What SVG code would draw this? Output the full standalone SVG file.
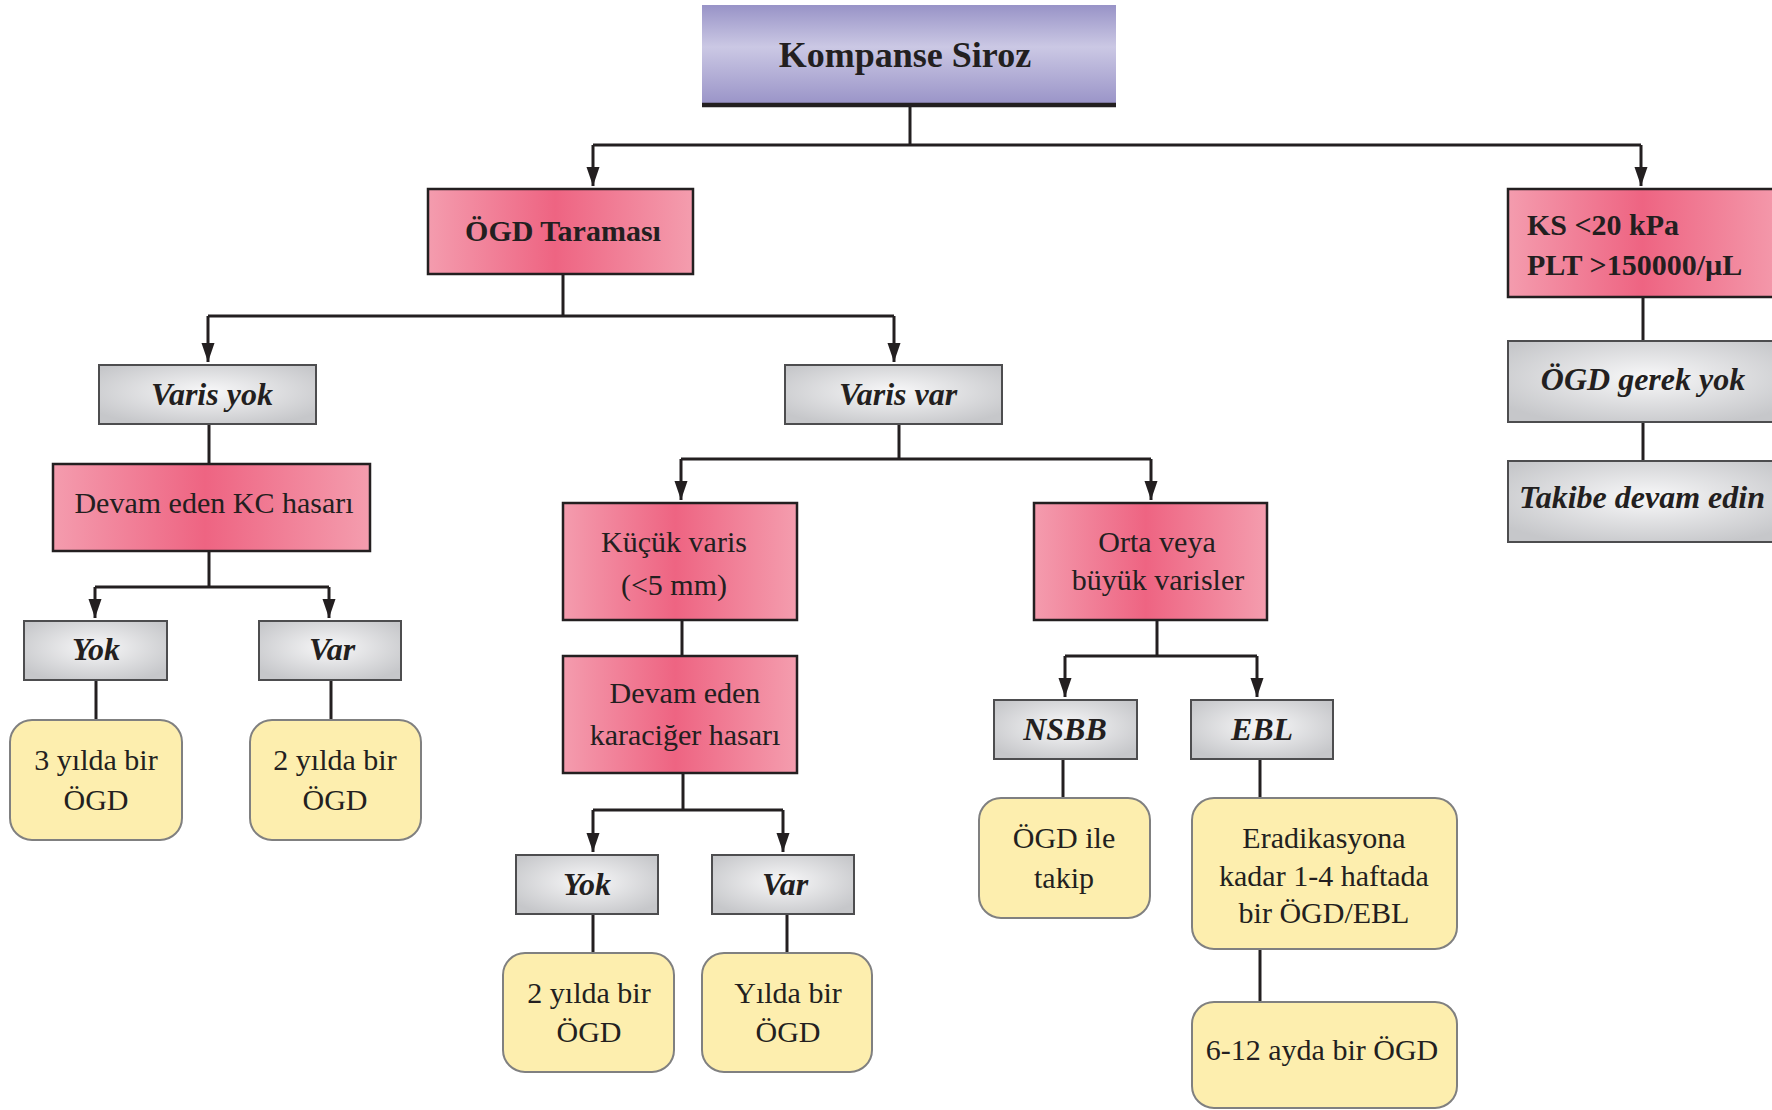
<svg xmlns="http://www.w3.org/2000/svg" width="1772" height="1110" viewBox="0 0 1772 1110">
  <defs>
    <linearGradient id="gPurple" x1="0" y1="0" x2="0" y2="1">
      <stop offset="0" stop-color="#9893c7"/>
      <stop offset="0.42" stop-color="#cbc8e4"/>
      <stop offset="1" stop-color="#9993c7"/>
    </linearGradient>
    <linearGradient id="gPink" x1="0" y1="0" x2="1" y2="0">
      <stop offset="0" stop-color="#f49cae"/>
      <stop offset="0.48" stop-color="#ee6482"/>
      <stop offset="1" stop-color="#f49dae"/>
    </linearGradient>
    <radialGradient id="gGrey" cx="0.5" cy="0.45" r="0.62">
      <stop offset="0" stop-color="#f8f8f9"/>
      <stop offset="1" stop-color="#c6c7ca"/>
    </radialGradient>
    <marker id="arrow" viewBox="0 -7 19 14" refX="19" refY="0" markerWidth="19" markerHeight="14" markerUnits="userSpaceOnUse" orient="auto">
      <path d="M0,-6.5 L19,0 L0,6.5 z" fill="#231f20"/>
    </marker>
  </defs>
  <style>
    .pink { fill: url(#gPink); stroke: #231f20; stroke-width: 2.5; }
    .grey { fill: url(#gGrey); stroke: #4d4d4f; stroke-width: 2; }
    .yellow { fill: #fdeeae; stroke: #808080; stroke-width: 2; }
    .root { fill: url(#gPurple); }
    .conn { fill: none; stroke: #231f20; stroke-width: 3; }
    text { font-family: "Liberation Serif", "Times New Roman", serif; fill: #231f20; }
    .reg { font-size: 30px; text-anchor: middle; }
    .bold { font-size: 30px; font-weight: bold; }
    .bi { font-size: 32px; font-weight: bold; font-style: italic; text-anchor: middle; }
    .title { font-size: 36px; font-weight: bold; text-anchor: middle; }
  </style>
  <rect width="1772" height="1110" fill="#ffffff"/>

  <!-- connectors -->
  <g id="connectors" class="conn">
    <path d="M910,107 V145"/>
    <path d="M593,145 H1641"/>
    <path d="M593,145 V186" marker-end="url(#arrow)"/>
    <path d="M1641,145 V186" marker-end="url(#arrow)"/>
    <!-- ÖGD Taraması branch -->
    <path d="M563,274 V316"/>
    <path d="M208,316 H894"/>
    <path d="M208,316 V362" marker-end="url(#arrow)"/>
    <path d="M894,316 V362" marker-end="url(#arrow)"/>
    <!-- Varis yok branch -->
    <path d="M209,424 V464"/>
    <path d="M209,551 V587"/>
    <path d="M95,587 H329"/>
    <path d="M95,587 V618" marker-end="url(#arrow)"/>
    <path d="M329,587 V618" marker-end="url(#arrow)"/>
    <path d="M96,680 V720"/>
    <path d="M331,680 V720"/>
    <!-- Varis var branch -->
    <path d="M899,424 V459"/>
    <path d="M681,459 H1151"/>
    <path d="M681,459 V500" marker-end="url(#arrow)"/>
    <path d="M1151,459 V500" marker-end="url(#arrow)"/>
    <!-- small varices -->
    <path d="M682,620 V656"/>
    <path d="M683,773 V810"/>
    <path d="M593,810 H783"/>
    <path d="M593,810 V852" marker-end="url(#arrow)"/>
    <path d="M783,810 V852" marker-end="url(#arrow)"/>
    <path d="M593,914 V953"/>
    <path d="M787,914 V953"/>
    <!-- medium / large varices -->
    <path d="M1157,620 V656"/>
    <path d="M1065,656 H1257"/>
    <path d="M1065,656 V697" marker-end="url(#arrow)"/>
    <path d="M1257,656 V697" marker-end="url(#arrow)"/>
    <path d="M1063,759 V798"/>
    <path d="M1260,759 V798"/>
    <path d="M1260,949 V1002"/>
    <!-- right branch -->
    <path d="M1643,297 V341"/>
    <path d="M1643,422 V461"/>
  </g>

  <!-- root -->
  <g id="kompanse-siroz">
    <rect class="root" x="702" y="5" width="414" height="100"/>
    <line x1="702" y1="105" x2="1116" y2="105" stroke="#231f20" stroke-width="4.5"/>
    <text class="title" x="905" y="67">Kompanse Siroz</text>
  </g>

  <g id="ogd-taramasi">
    <rect class="pink" x="428" y="189" width="265" height="85"/>
    <text class="bold" x="563" y="241" text-anchor="middle">ÖGD Taraması</text>
  </g>

  <g id="ks-plt">
    <rect class="pink" x="1508" y="189" width="280" height="108"/>
    <text class="bold" x="1527" y="235">KS &lt;20 kPa</text>
    <text class="bold" x="1527" y="275">PLT &gt;150000/µL</text>
  </g>

  <g id="ogd-gerek-yok">
    <rect class="grey" x="1508" y="341" width="280" height="81"/>
    <text class="bi" x="1643" y="390">ÖGD gerek yok</text>
  </g>

  <g id="takibe-devam">
    <rect class="grey" x="1508" y="461" width="280" height="81"/>
    <text class="bi" x="1642" y="508">Takibe devam edin</text>
  </g>

  <!-- no varices -->
  <g id="varis-yok">
    <rect class="grey" x="99" y="365" width="217" height="59"/>
    <text class="bi" x="212" y="405">Varis yok</text>
  </g>

  <g id="devam-kc">
    <rect class="pink" x="53" y="464" width="317" height="87"/>
    <text class="reg" x="214" y="513">Devam eden KC hasarı</text>
  </g>

  <g id="yok-1">
    <rect class="grey" x="24" y="621" width="143" height="59"/>
    <text class="bi" x="96" y="660">Yok</text>
  </g>

  <g id="var-1">
    <rect class="grey" x="259" y="621" width="142" height="59"/>
    <text class="bi" x="332" y="660">Var</text>
  </g>

  <g id="uc-yilda">
    <rect class="yellow" x="10" y="720" width="172" height="120" rx="22"/>
    <text class="reg" x="96" y="770">3 yılda bir</text>
    <text class="reg" x="96" y="810">ÖGD</text>
  </g>

  <g id="iki-yilda-1">
    <rect class="yellow" x="250" y="720" width="171" height="120" rx="22"/>
    <text class="reg" x="335" y="770">2 yılda bir</text>
    <text class="reg" x="335" y="810">ÖGD</text>
  </g>

  <!-- varices present -->
  <g id="varis-var">
    <rect class="grey" x="785" y="365" width="217" height="59"/>
    <text class="bi" x="898" y="405">Varis var</text>
  </g>

  <g id="kucuk-varis">
    <rect class="pink" x="563" y="503" width="234" height="117"/>
    <text class="reg" x="674" y="552">Küçük varis</text>
    <text class="reg" x="674" y="595">(&lt;5 mm)</text>
  </g>

  <g id="devam-karaciger">
    <rect class="pink" x="563" y="656" width="234" height="117"/>
    <text class="reg" x="685" y="703">Devam eden</text>
    <text class="reg" x="685" y="745">karaciğer hasarı</text>
  </g>

  <g id="yok-2">
    <rect class="grey" x="516" y="855" width="142" height="59"/>
    <text class="bi" x="587" y="895">Yok</text>
  </g>

  <g id="var-2">
    <rect class="grey" x="712" y="855" width="142" height="59"/>
    <text class="bi" x="785" y="895">Var</text>
  </g>

  <g id="iki-yilda-2">
    <rect class="yellow" x="503" y="953" width="171" height="119" rx="22"/>
    <text class="reg" x="589" y="1003">2 yılda bir</text>
    <text class="reg" x="589" y="1042">ÖGD</text>
  </g>

  <g id="yilda-bir">
    <rect class="yellow" x="702" y="953" width="170" height="119" rx="22"/>
    <text class="reg" x="788" y="1003">Yılda bir</text>
    <text class="reg" x="788" y="1042">ÖGD</text>
  </g>

  <g id="orta-buyuk">
    <rect class="pink" x="1034" y="503" width="233" height="117"/>
    <text class="reg" x="1157" y="552">Orta veya</text>
    <text class="reg" x="1158" y="590">büyük varisler</text>
  </g>

  <g id="nsbb">
    <rect class="grey" x="994" y="700" width="143" height="59"/>
    <text class="bi" x="1065" y="740">NSBB</text>
  </g>

  <g id="ebl">
    <rect class="grey" x="1191" y="700" width="142" height="59"/>
    <text class="bi" x="1262" y="740">EBL</text>
  </g>

  <g id="ogd-ile-takip">
    <rect class="yellow" x="979" y="798" width="171" height="120" rx="22"/>
    <text class="reg" x="1064" y="848">ÖGD ile</text>
    <text class="reg" x="1064" y="888">takip</text>
  </g>

  <g id="eradikasyon">
    <rect class="yellow" x="1192" y="798" width="265" height="151" rx="22"/>
    <text class="reg" x="1324" y="848">Eradikasyona</text>
    <text class="reg" x="1324" y="886">kadar 1-4 haftada</text>
    <text class="reg" x="1324" y="923">bir ÖGD/EBL</text>
  </g>

  <g id="alti-on-iki-ay">
    <rect class="yellow" x="1192" y="1002" width="265" height="106" rx="22"/>
    <text class="reg" x="1322" y="1060">6-12 ayda bir ÖGD</text>
  </g>
</svg>
